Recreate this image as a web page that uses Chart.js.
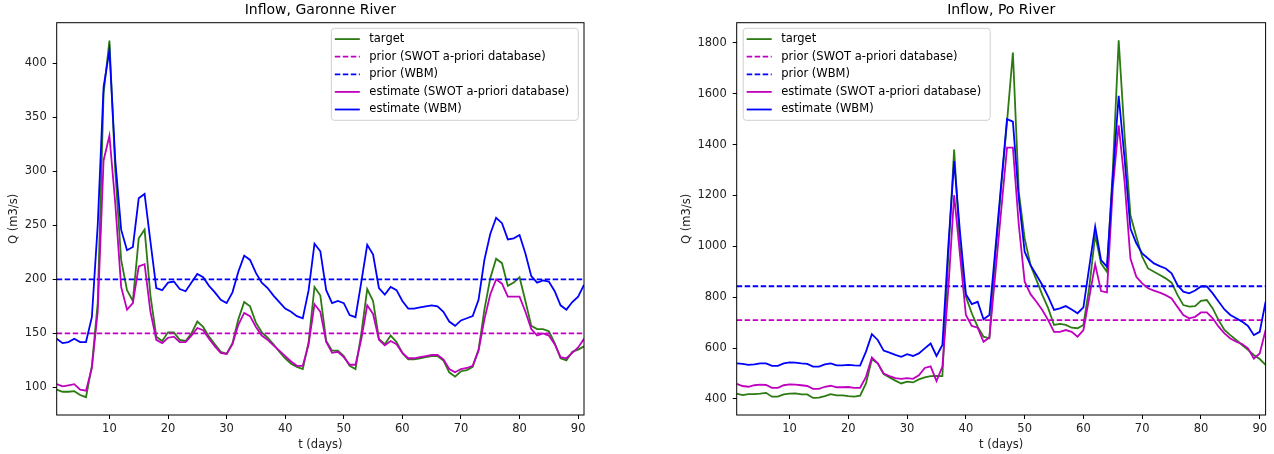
<!DOCTYPE html>
<html>
<head>
<meta charset="utf-8">
<title>Inflow</title>
<script src="https://cdn.jsdelivr.net/npm/chart.js@4.4.1/dist/chart.umd.min.js"></script>
<style>
  html, body { margin: 0; padding: 0; background: #fff; }
  body { width: 1274px; height: 454px; position: relative; overflow: hidden; }
  .panel { position: absolute; top: 0; height: 454px; }
  #garonnePanel { left: 0; width: 600px; }
  #poPanel { left: 640px; width: 634px; }
</style>
</head>
<body>
<div class="panel" id="garonnePanel"><canvas id="garonneChart"></canvas></div>
<div class="panel" id="poPanel"><canvas id="poChart"></canvas></div>
<script>
// Garonne River, daily inflow (m3/s)
const garTarget = [
  98, 96, 96, 96.5, 93, 91, 120, 178, 372, 421,
  300, 218, 190, 180, 238, 246, 185, 147, 143, 151,
  151, 144, 143, 150, 161, 156, 147, 140, 133, 131,
  141, 163, 179, 175, 160, 151, 146, 140, 133, 127,
  122, 119, 117, 142, 193, 185, 143, 134, 134, 129,
  120, 117, 150, 191, 180, 145, 140, 148, 142, 132,
  126, 126, 127, 128, 129, 129, 125, 114, 110, 115,
  116, 119, 135, 172, 201, 219, 215, 194, 197, 202,
  180, 157, 154, 154, 152, 141, 127, 125, 133, 135, 138
];
const garEstSwot = [
  103, 101, 102, 103, 98, 97, 118, 170, 310, 333,
  270, 193, 172, 178, 212, 214, 170, 144, 141, 146,
  147, 142, 142, 148, 155, 153, 145, 138, 132, 131,
  140, 158, 169, 166, 156, 148, 144, 139, 134, 129,
  124, 120, 120, 140, 177, 170, 142, 132, 133, 128,
  121, 121, 145, 176, 168, 144, 139, 143, 140, 132,
  127, 127, 128, 129, 130, 130, 126, 117, 114, 117,
  118, 120, 134, 163, 186, 200, 196, 184, 184, 184,
  170, 154, 148, 150, 148, 140, 128, 127, 132, 137, 145
];
const garEstWbm = [
  145, 141, 142, 145, 142, 142, 165, 250, 378, 412,
  310, 246, 227, 230, 275, 279, 235, 192, 190, 197,
  198, 191, 189, 197, 205, 202, 194, 188, 181, 178,
  188, 207, 222, 218, 206, 197, 192, 185, 179, 173,
  170, 166, 164, 190, 233, 226, 190, 178, 180, 178,
  167, 165, 198, 232, 223, 192, 186, 193, 190, 180,
  173, 173, 174, 175, 176, 175, 170, 161, 157, 162,
  164, 166, 181, 218, 242, 257, 252, 237, 238, 241,
  224, 203, 197, 199, 198, 189, 176, 172, 179, 184, 195
];
const garPriorSwot = 150;
const garPriorWbm = 200;
const garYTicks = [100, 150, 200, 250, 300, 350, 400];

// Po River, daily inflow (m3/s)
const poTarget = [
  421, 415, 419, 419, 421, 424, 409, 409, 418, 421,
  422, 418, 418, 404, 405, 411, 419, 414, 414, 411,
  409, 413, 461, 556, 540, 498, 485, 472, 461, 468,
  465, 477, 485, 490, 491, 490, 960, 1380, 990, 802,
  737, 684, 645, 638, 960, 1230, 1490, 1762, 1214, 1031,
  926, 868, 809, 757, 691, 695, 691, 680, 678, 691,
  840, 1044, 933, 900, 1300, 1810, 1437, 1122, 1038, 959,
  913, 900, 887, 874, 857, 809, 769, 763, 765, 786,
  789, 756, 710, 671, 651, 632, 612, 593, 573, 557, 534
];
const poEstSwot = [
  459, 451, 448, 454, 456, 455, 444, 444, 454, 457,
  456, 454, 451, 440, 440, 448, 452, 446, 446, 447,
  444, 444, 487, 563, 540, 500, 490, 482, 479, 482,
  479, 493, 522, 528, 470, 527, 830, 1201, 965, 730,
  687, 680, 625, 642, 890, 1140, 1388, 1388, 1084, 861,
  812, 782, 750, 710, 664, 664, 671, 664, 645, 671,
  800, 929, 824, 819, 1230, 1476, 1254, 952, 880, 854,
  835, 826, 818, 808, 795, 762, 730, 717, 723, 740,
  740, 717, 684, 658, 638, 625, 616, 599, 559, 579, 671
];
const poEstWbm = [
  540, 538, 534, 536, 540, 540, 530, 530, 540, 544,
  543, 540, 538, 527, 527, 536, 540, 532, 532, 534,
  532, 531, 586, 655, 632, 590, 582, 573, 566, 576,
  569, 579, 599, 618, 569, 612, 998, 1335, 1055, 812,
  773, 782, 713, 730, 985, 1243, 1500, 1490, 1188, 979,
  926, 887, 848, 802, 750, 756, 765, 752, 737, 760,
  920, 1077, 946, 920, 1273, 1592, 1346, 1070, 1012, 972,
  952, 933, 922, 913, 894, 848, 822, 815, 826, 842,
  842, 815, 783, 752, 730, 717, 704, 687, 651, 664, 782
];
const poPriorSwot = 710;
const poPriorWbm = 843;
const poYTicks = [400, 600, 800, 1000, 1200, 1400, 1600, 1800];

const xTicks = [10, 20, 30, 40, 50, 60, 70, 80, 90];
const seriesLabels = [
  "target",
  "prior (SWOT a-priori database)",
  "prior (WBM)",
  "estimate (SWOT a-priori database)",
  "estimate (WBM)"
];

const FONT = '"DejaVu Sans", sans-serif';
const TEXT_SIZE = 11.5;
const GREEN = "#2c7a12";
const MAGENTA = "#bf00bf";
const BLUE = "#0000ff";

const toPoints = (values) => values.map((v, i) => ({ x: i + 1, y: v }));
const flat = (value, n) => [{ x: 1, y: value }, { x: n, y: value }];

// axes frame + title centred over the plot area
const framePlugin = {
  id: "frame",
  afterDatasetsDraw(chart, args, opts) {
    const { ctx, chartArea: a } = chart;
    ctx.save();
    ctx.strokeStyle = "#000";
    ctx.lineWidth = 1;
    ctx.strokeRect(a.left, a.top, a.right - a.left, a.bottom - a.top);
    ctx.fillStyle = "#000";
    ctx.font = `14px ${FONT}`;
    ctx.textAlign = "center";
    ctx.textBaseline = "middle";
    ctx.fillText(opts.title, (a.left + a.right) / 2, 10);
    ctx.restore();
  }
};

// matplotlib-like boxed legend inside the plot area
const boxLegendPlugin = {
  id: "boxLegend",
  afterDraw(chart, args, opts) {
    const { ctx, chartArea: a } = chart;
    const sets = chart.data.datasets;
    ctx.save();
    ctx.font = `${TEXT_SIZE}px ${FONT}`;
    const textW = Math.max(...sets.map((d) => ctx.measureText(d.label).width));
    const w = 38 + textW + 9;
    const h = 92;
    const x = opts.side === "left" ? a.left + 6.5 : a.right - 5.7 - w;
    const y = a.top + 5.6;

    ctx.beginPath();
    ctx.roundRect(x, y, w, h, 3);
    ctx.fillStyle = "rgba(255,255,255,0.8)";
    ctx.fill();
    ctx.strokeStyle = "#d0d0d0";
    ctx.lineWidth = 1;
    ctx.stroke();

    sets.forEach((d, i) => {
      const cy = y + 10.8 + i * 17.6;
      ctx.beginPath();
      ctx.setLineDash(d.borderDash || []);
      ctx.strokeStyle = d.borderColor;
      ctx.lineWidth = d.borderWidth;
      ctx.moveTo(x + 3.5, cy);
      ctx.lineTo(x + 28.5, cy);
      ctx.stroke();
      ctx.setLineDash([]);
      ctx.fillStyle = "#000";
      ctx.textAlign = "left";
      ctx.textBaseline = "middle";
      ctx.fillText(d.label, x + 38, cy);
    });
    ctx.restore();
  }
};

function makeChart(canvasId, cfg) {
  const n = cfg.target.length;
  const line = (label, data, color, dashed, order) => ({
    label,
    data,
    borderColor: color,
    backgroundColor: color,
    borderWidth: 1.8,
    borderDash: dashed ? [5.5, 2.5] : [],
    pointRadius: 0,
    tension: 0,
    fill: false,
    order
  });

  return new Chart(document.getElementById(canvasId), {
    type: "line",
    data: {
      datasets: [
        line(seriesLabels[0], toPoints(cfg.target), GREEN, false, 5),
        line(seriesLabels[1], flat(cfg.priorSwot, n), MAGENTA, true, 4),
        line(seriesLabels[2], flat(cfg.priorWbm, n), BLUE, true, 3),
        line(seriesLabels[3], toPoints(cfg.estSwot), MAGENTA, false, 2),
        line(seriesLabels[4], toPoints(cfg.estWbm), BLUE, false, 1)
      ]
    },
    options: {
      responsive: true,
      maintainAspectRatio: false,
      animation: false,
      layout: { padding: cfg.padding },
      plugins: {
        legend: { display: false },
        tooltip: { enabled: false },
        frame: { title: cfg.title },
        boxLegend: { side: cfg.legendSide }
      },
      scales: {
        x: {
          type: "linear",
          min: 1,
          max: n,
          afterBuildTicks(scale) {
            scale.ticks = xTicks.map((v) => ({ value: v }));
          },
          afterFit(scale) {
            scale.height = 39;
          },
          grid: { drawOnChartArea: false, drawTicks: true, tickLength: 4, color: "#000" },
          border: { display: false },
          ticks: {
            color: "#222",
            padding: 3,
            maxRotation: 0,
            font: { family: FONT, size: TEXT_SIZE },
            callback: (v) => String(v)
          },
          title: {
            display: true,
            text: "t (days)",
            color: "#222",
            padding: { top: 0, bottom: 2 },
            font: { family: FONT, size: TEXT_SIZE }
          }
        },
        y: {
          type: "linear",
          min: cfg.yMin,
          max: cfg.yMax,
          afterBuildTicks(scale) {
            scale.ticks = cfg.yTicks.map((v) => ({ value: v }));
          },
          afterFit(scale) {
            scale.width = cfg.yWidth;
          },
          grid: { drawOnChartArea: false, drawTicks: true, tickLength: 4, color: "#000" },
          border: { display: false },
          ticks: {
            color: "#222",
            padding: 6,
            font: { family: FONT, size: TEXT_SIZE },
            callback: (v) => String(v)
          },
          title: {
            display: true,
            text: "Q (m3/s)",
            color: "#222",
            padding: { top: 7.5, bottom: 0 },
            font: { family: FONT, size: TEXT_SIZE }
          }
        }
      }
    },
    plugins: [framePlugin, boxLegendPlugin]
  });
}

document.addEventListener("DOMContentLoaded", () => {
  makeChart("garonneChart", {
    title: "Inflow, Garonne River",
    target: garTarget,
    estSwot: garEstSwot,
    estWbm: garEstWbm,
    priorSwot: garPriorSwot,
    priorWbm: garPriorWbm,
    yTicks: garYTicks,
    yMin: 74.5,
    yMax: 437.5,
    yWidth: 56.7,
    legendSide: "right",
    padding: { top: 22.7, left: 0, right: 16, bottom: 0 }
  });

  makeChart("poChart", {
    title: "Inflow, Po River",
    target: poTarget,
    estSwot: poEstSwot,
    estWbm: poEstWbm,
    priorSwot: poPriorSwot,
    priorWbm: poPriorWbm,
    yTicks: poYTicks,
    yMin: 337,
    yMax: 1879,
    yWidth: 63.7,
    legendSide: "left",
    padding: { top: 22.7, left: 33, right: 8.4, bottom: 0 }
  });
});
</script>
</body>
</html>
